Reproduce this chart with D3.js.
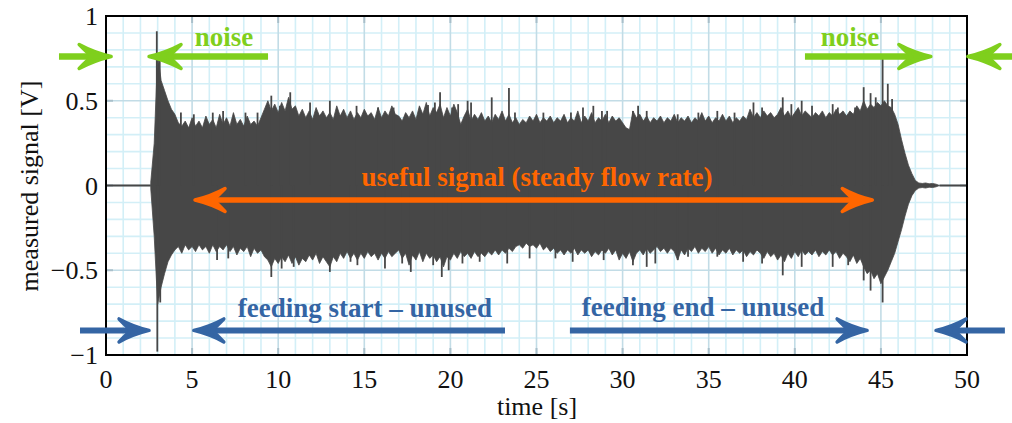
<!DOCTYPE html>
<html><head><meta charset="utf-8">
<script src="https://cdn.jsdelivr.net/npm/d3@7"></script>
<style>
html,body{margin:0;padding:0;background:#fff;}
svg{display:block;font-family:"Liberation Serif","Times New Roman",serif;}
</style></head>
<body><svg id="chart" width="1012" height="423"></svg>
<script>
// ---------- data ----------
const xTicks = [0, 5, 10, 15, 20, 25, 30, 35, 40, 45, 50];
const yTicks = [-1, -0.5, 0, 0.5, 1];
const yTickLabels = ["\u22121", "\u22120.5", "0", "0.5", "1"];
const xLabel = "time [s]";
const yLabel = "measured signal [V]";

// signal envelope sampled every 0.2 s starting at 2.6 s
const sampleStart = 2.6;
const sampleStep = 0.2;
const upperEnvelope = [
  0.02, 0.25,
  0.78, 0.62, 0.56, 0.50, 0.45,
  0.42, 0.37, 0.35, 0.38, 0.34,
  0.40, 0.35, 0.38, 0.34, 0.41,
  0.36, 0.39, 0.34, 0.42, 0.36,
  0.40, 0.35, 0.43, 0.36, 0.39,
  0.35, 0.41, 0.36, 0.38, 0.35,
  0.40, 0.45, 0.50, 0.44, 0.48,
  0.43, 0.49, 0.44, 0.52, 0.45,
  0.47, 0.41, 0.45, 0.40, 0.44,
  0.39, 0.46, 0.41, 0.44, 0.40,
  0.43, 0.39, 0.47, 0.41, 0.45,
  0.40, 0.44, 0.39, 0.43, 0.40,
  0.45, 0.41, 0.43, 0.39, 0.46,
  0.40, 0.44, 0.41, 0.47, 0.42,
  0.41, 0.38, 0.43, 0.40, 0.44,
  0.39, 0.47, 0.42, 0.49, 0.41,
  0.46, 0.43, 0.48, 0.40, 0.46,
  0.41, 0.48, 0.43, 0.36, 0.41,
  0.45, 0.38, 0.42, 0.39, 0.43,
  0.38, 0.41, 0.37, 0.42, 0.39,
  0.44, 0.38, 0.42, 0.37, 0.40,
  0.36, 0.39, 0.37, 0.41, 0.38,
  0.42, 0.37, 0.40, 0.38, 0.41,
  0.37, 0.40, 0.38, 0.42, 0.37,
  0.40, 0.38, 0.44, 0.37, 0.41,
  0.38, 0.43, 0.37, 0.40, 0.38,
  0.42, 0.37, 0.41, 0.38, 0.40,
  0.37, 0.34, 0.33, 0.44, 0.40,
  0.42, 0.38, 0.41, 0.37, 0.40,
  0.38, 0.41, 0.37, 0.40, 0.38,
  0.42, 0.37, 0.40, 0.38, 0.41,
  0.37, 0.40, 0.38, 0.43, 0.38,
  0.41, 0.37, 0.40, 0.38, 0.42,
  0.38, 0.41, 0.37, 0.40, 0.38,
  0.41, 0.39, 0.45, 0.40, 0.43,
  0.40, 0.44, 0.41, 0.43, 0.40,
  0.42, 0.46, 0.41, 0.44, 0.40,
  0.43, 0.46, 0.41, 0.44, 0.42,
  0.40, 0.43, 0.41, 0.44, 0.40,
  0.43, 0.41, 0.45, 0.42, 0.44,
  0.41, 0.44, 0.42, 0.47, 0.44,
  0.50, 0.45, 0.48, 0.46, 0.49,
  0.47, 0.50, 0.47, 0.46, 0.42,
  0.36, 0.27, 0.19, 0.12, 0.07,
  0.03, 0.015, 0.012, 0.015, 0.01,
  0.012, 0.008, 0.0
];
const lowerEnvelope = [
  -0.02, -0.30,
  -0.70, -0.60, -0.52, -0.45, -0.41,
  -0.38, -0.36, -0.40, -0.35, -0.38,
  -0.36, -0.39, -0.35, -0.38, -0.36,
  -0.40, -0.35, -0.39, -0.36, -0.38,
  -0.35, -0.39, -0.36, -0.41, -0.37,
  -0.39, -0.36, -0.42, -0.37, -0.40,
  -0.38, -0.42, -0.44, -0.48, -0.43,
  -0.46, -0.42, -0.45, -0.41, -0.46,
  -0.42, -0.47, -0.43, -0.45, -0.41,
  -0.44, -0.40, -0.46, -0.42, -0.45,
  -0.48, -0.42, -0.45, -0.40, -0.43,
  -0.39, -0.43, -0.40, -0.44, -0.40,
  -0.43, -0.39, -0.42, -0.40, -0.44,
  -0.40, -0.43, -0.39, -0.42, -0.40,
  -0.38, -0.43, -0.40, -0.47, -0.41,
  -0.44, -0.39, -0.45, -0.40, -0.43,
  -0.41, -0.45, -0.42, -0.48, -0.42,
  -0.44, -0.40, -0.43, -0.39, -0.42,
  -0.40, -0.43, -0.39, -0.42, -0.40,
  -0.42, -0.39, -0.41, -0.38, -0.41,
  -0.38, -0.40, -0.37, -0.39, -0.36,
  -0.35, -0.37, -0.34, -0.36, -0.35,
  -0.37, -0.34, -0.38, -0.36, -0.39,
  -0.37, -0.40, -0.38, -0.41, -0.38,
  -0.40, -0.37, -0.41, -0.38, -0.40,
  -0.38, -0.42, -0.39, -0.41, -0.38,
  -0.40, -0.37, -0.41, -0.38, -0.44,
  -0.40, -0.43, -0.39, -0.45, -0.40,
  -0.38, -0.41, -0.37, -0.40, -0.38,
  -0.36, -0.39, -0.37, -0.40, -0.37,
  -0.39, -0.44, -0.38, -0.41, -0.37,
  -0.39, -0.36, -0.40, -0.37, -0.39,
  -0.36, -0.40, -0.37, -0.41, -0.38,
  -0.40, -0.37, -0.41, -0.38, -0.40,
  -0.38, -0.42, -0.39, -0.41, -0.38,
  -0.40, -0.43, -0.39, -0.42, -0.40,
  -0.44, -0.41, -0.45, -0.40, -0.43,
  -0.39, -0.42, -0.38, -0.41, -0.39,
  -0.41, -0.38, -0.42, -0.39, -0.41,
  -0.38, -0.41, -0.39, -0.43, -0.40,
  -0.42, -0.45, -0.41, -0.46, -0.43,
  -0.48, -0.52, -0.50, -0.55, -0.52,
  -0.58, -0.54, -0.50, -0.45, -0.40,
  -0.33, -0.26, -0.18, -0.11, -0.06,
  -0.03, -0.015, -0.012, -0.015, -0.01,
  -0.012, -0.008, 0.0
];
// isolated narrow peaks (positive)
const upperSpikeTimes  = [2.95, 3.12, 4.35, 5.1, 6.2, 6.8, 8.1, 8.8, 9.6, 10.1, 10.7, 11.85, 13.0, 14.55, 15.8, 16.7,
                          18.7, 19.1, 19.4, 20.1, 20.45, 21.0, 21.2, 22.4, 23.4, 23.75, 25.4, 27.0, 27.7, 28.3, 28.8, 29.1, 30.6, 30.9, 31.4,
                          33.2, 34.4, 35.5, 36.5, 37.6, 38.1, 39.3, 39.8, 40.4, 41.0, 42.2, 42.5, 43.5, 44.0, 44.4, 44.7, 45.1, 45.4, 45.65];
const upperSpikeValues = [0.91, 0.74, 0.43, 0.42, 0.43, 0.44, 0.43, 0.43, 0.53, 0.47, 0.55, 0.49, 0.50, 0.47, 0.46, 0.46,
                          0.475, 0.49, 0.55, 0.46, 0.48, 0.50, 0.49, 0.52, 0.575, 0.43, 0.43, 0.43, 0.46, 0.47, 0.44, 0.44, 0.44, 0.47, 0.44,
                          0.42, 0.43, 0.44, 0.43, 0.49, 0.46, 0.52, 0.48, 0.50, 0.47, 0.48, 0.46, 0.46, 0.58, 0.545, 0.52, 0.75, 0.60, 0.51];
// isolated narrow peaks (negative)
const lowerSpikeTimes  = [2.98, 3.15, 6.45, 7.1, 9.6, 10.2, 10.9, 13.0, 14.2, 14.6, 16.2, 17.2,
                          17.7, 19.0, 19.5, 19.9, 20.7, 21.7, 23.3, 24.6, 26.1, 27.1, 28.9, 30.6, 31.4, 31.9,
                          33.2, 33.8, 35.5, 37.0, 38.1, 39.3, 40.4, 42.2, 43.1, 44.0, 44.4, 45.1];
const lowerSpikeValues = [-0.98, -0.69, -0.44, -0.43, -0.54, -0.49, -0.48, -0.51, -0.45, -0.47, -0.49, -0.46,
                          -0.51, -0.47, -0.54, -0.50, -0.46, -0.45, -0.46, -0.43, -0.43, -0.45, -0.44, -0.47, -0.48, -0.46,
                          -0.44, -0.42, -0.42, -0.45, -0.46, -0.53, -0.48, -0.48, -0.47, -0.56, -0.62, -0.69];
const quietSpans = [[0, 2.6], [48.4, 50]];

// annotation texts
const arrowLabels = ["noise", "noise", "useful signal (steady flow rate)", "feeding start \u2013 unused", "feeding end \u2013 unused"];

// ---------- drawing ----------
const svg = d3.select("#chart");
const W = 1012, H = 423;
const x = d3.scaleLinear().domain([0, 50]).range([106, 967]);
const y = d3.scaleLinear().domain([-1, 1]).range([355, 16]);

const minorCol = "#d3eff7", majorCol = "#c2dce6", tickCol = "#a9bfca";
const sigCol = "#474747";
const green = "#7fcf1d", blue = "#3465a4", orange = "#ff6600";

svg.append("rect").attr("width", W).attr("height", H).attr("fill", "#fff");

// grid
const g = svg.append("g");
const minorX = d3.range(0, 51, 1).filter(v => v % 5 !== 0);
const minorY = d3.range(-10, 11, 1).filter(v => v % 5 !== 0).map(v => v / 10);
g.selectAll(".mx").data(minorX).join("line")
  .attr("x1", d => x(d)).attr("x2", d => x(d)).attr("y1", y(-1)).attr("y2", y(1))
  .attr("stroke", minorCol).attr("stroke-width", 1.6);
g.selectAll(".my").data(minorY).join("line")
  .attr("y1", d => y(d)).attr("y2", d => y(d)).attr("x1", x(0)).attr("x2", x(50))
  .attr("stroke", minorCol).attr("stroke-width", 1.6);
g.selectAll(".Mx").data(xTicks).join("line")
  .attr("x1", d => x(d)).attr("x2", d => x(d)).attr("y1", y(-1)).attr("y2", y(1))
  .attr("stroke", majorCol).attr("stroke-width", 1.6);
g.selectAll(".My").data(yTicks).join("line")
  .attr("y1", d => y(d)).attr("y2", d => y(d)).attr("x1", x(0)).attr("x2", x(50))
  .attr("stroke", majorCol).attr("stroke-width", 1.6);

// inner tick marks
const tk = svg.append("g").attr("stroke", tickCol).attr("stroke-width", 2);
xTicks.forEach(d => {
  tk.append("line").attr("x1", x(d)).attr("x2", x(d)).attr("y1", y(-1)).attr("y2", y(-1) - 7);
  tk.append("line").attr("x1", x(d)).attr("x2", x(d)).attr("y1", y(1)).attr("y2", y(1) + 7);
});
yTicks.forEach(d => {
  tk.append("line").attr("y1", y(d)).attr("y2", y(d)).attr("x1", x(0)).attr("x2", x(0) + 7);
  tk.append("line").attr("y1", y(d)).attr("y2", y(d)).attr("x1", x(50)).attr("x2", x(50) - 7);
});

// signal
const sig = upperEnvelope.map((u, i) => ({ t: sampleStart + i * sampleStep, u: u, l: lowerEnvelope[i] }));
const area = d3.area().x(d => x(d.t)).y0(d => y(d.l)).y1(d => y(d.u));
svg.append("path").datum(sig).attr("d", area)
  .attr("fill", sigCol).attr("stroke", sigCol).attr("stroke-width", 0.8);
svg.selectAll(".quiet").data(quietSpans).join("line")
  .attr("x1", d => x(d[0])).attr("x2", d => x(d[1])).attr("y1", y(0)).attr("y2", y(0))
  .attr("stroke", sigCol).attr("stroke-width", 2);
const spikes = upperSpikeTimes.map((t, i) => ({ t, v: upperSpikeValues[i] }))
  .concat(lowerSpikeTimes.map((t, i) => ({ t, v: lowerSpikeValues[i] })));
svg.selectAll(".spike").data(spikes).join("line")
  .attr("x1", d => x(d.t)).attr("x2", d => x(d.t)).attr("y1", y(0)).attr("y2", d => y(d.v))
  .attr("stroke", sigCol).attr("stroke-width", 1.8);

// frame
svg.append("rect").attr("x", x(0)).attr("y", y(1)).attr("width", x(50) - x(0)).attr("height", y(-1) - y(1))
  .attr("fill", "none").attr("stroke", "#000").attr("stroke-width", 2);

// tick labels
svg.selectAll(".xl").data(xTicks).join("text")
  .attr("x", d => x(d)).attr("y", 388).attr("text-anchor", "middle")
  .attr("font-size", 26).attr("fill", "#111").text(d => d);
svg.selectAll(".yl").data(yTicks).join("text")
  .attr("x", 98).attr("y", d => y(d) + 9).attr("text-anchor", "end")
  .attr("font-size", 26).attr("fill", "#111").text((d, i) => yTickLabels[i]);
svg.append("text").attr("x", 537).attr("y", 415).attr("text-anchor", "middle")
  .attr("font-size", 26).attr("fill", "#111").text(xLabel);
svg.append("text").attr("transform", "translate(38,186) rotate(-90)").attr("text-anchor", "middle")
  .attr("font-size", 26).attr("fill", "#111").text(yLabel);

// arrows
function arrow(t1, t2, v, col, heads, L, Wd, sw) {
  const yy = y(v);
  const xa = x(t1), xb = x(t2);
  const dir = xb > xa ? 1 : -1;
  let s1 = xa, s2 = xb;
  if (heads === "end" || heads === "both") s2 = xb - dir * L * 0.55;
  if (heads === "start" || heads === "both") s1 = xa + dir * L * 0.55;
  const ga = svg.append("g");
  ga.append("line").attr("x1", s1).attr("x2", s2).attr("y1", yy).attr("y2", yy)
    .attr("stroke", col).attr("stroke-width", sw);
  const head = (tip, d) => {
    const p = d3.path();
    p.moveTo(tip, yy);
    p.quadraticCurveTo(tip - d * L * 0.55, yy - Wd * 0.35, tip - d * L, yy - Wd);
    p.quadraticCurveTo(tip - d * L * 0.7, yy - Wd * 0.2, tip - d * L * 0.6, yy);
    p.quadraticCurveTo(tip - d * L * 0.7, yy + Wd * 0.2, tip - d * L, yy + Wd);
    p.quadraticCurveTo(tip - d * L * 0.55, yy + Wd * 0.35, tip, yy);
    p.closePath();
    ga.append("path").attr("d", p.toString()).attr("fill", col)
      .attr("stroke", col).attr("stroke-width", 3.5).attr("stroke-linejoin", "round");
  };
  if (heads === "end" || heads === "both") head(xb, dir);
  if (heads === "start" || heads === "both") head(xa, -dir);
}
// green (noise)
arrow(-2.73, 0.30, 0.761, green, "end", 32, 12, 6.5);
arrow(9.41, 2.50, 0.761, green, "end", 32, 12, 6.5);
arrow(40.59, 47.9, 0.761, green, "end", 32, 12, 6.5);
arrow(53.0, 50.05, 0.761, green, "end", 32, 12, 6.5);
// blue (feeding)
arrow(-1.51, 2.50, -0.855, blue, "end", 30, 11.5, 6);
arrow(23.17, 5.10, -0.855, blue, "end", 30, 11.5, 6);
arrow(26.94, 44.2, -0.855, blue, "end", 30, 11.5, 6);
arrow(52.2, 48.2, -0.855, blue, "end", 30, 11.5, 6);
// orange (useful)
arrow(5.17, 44.5, -0.0855, orange, "both", 30, 11.5, 5.5);

// annotation labels
const lab = (txt, t, py, col) => svg.append("text").attr("x", x(t)).attr("y", py)
  .attr("text-anchor", "middle").attr("font-weight", "bold").attr("font-size", 27)
  .attr("fill", col).text(txt);
lab(arrowLabels[0], 6.85, 46, green);
lab(arrowLabels[1], 43.2, 46, green);
lab(arrowLabels[2], 25.03, 186, orange);
lab(arrowLabels[3], 15.04, 317, blue);
lab(arrowLabels[4], 34.67, 316, blue);
</script></body></html>
